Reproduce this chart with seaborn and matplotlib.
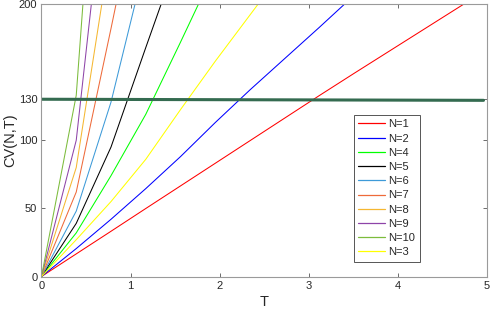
import pandas as pd
import matplotlib
matplotlib.use("Agg")
import matplotlib.pyplot as plt
import seaborn as sns

# sample points in T (shared by every curve; a curve stops once it leaves the plot)
t_grid = [0, 0.39, 0.78, 1.17, 1.56, 1.95, 2.34, 2.73, 3.12, 3.51, 3.90, 4.29, 4.68, 5.07]

cv_n1 = [0, 16.6, 33.2, 49.9, 66.5, 83.1, 99.7, 116.3, 132.9, 149.2, 165.3, 181.4, 197.5, 213.5]
cv_n2 = [0, 20.5, 42, 64.5, 88, 113, 137, 160, 183, 206.5]
cv_n3 = [0, 27, 55, 86, 122.5, 158, 192, 226]
cv_n4 = [0, 32, 74, 119, 172, 226]
cv_n5 = [0, 39, 95, 168, 240]
cv_n6 = [0, 48, 128, 232]
cv_n7 = [0, 62, 182, 305]
cv_n8 = [0, 80, 243]
cv_n9 = [0, 100, 330]
cv_n10 = [0, 133, 481]

labels = ["N=1", "N=2", "N=4", "N=5", "N=6", "N=7", "N=8", "N=9", "N=10", "N=3"]
series = [cv_n1, cv_n2, cv_n4, cv_n5, cv_n6, cv_n7, cv_n8, cv_n9, cv_n10, cv_n3]
colors = ["#ff0000", "#0000ff", "#00ff00", "#000000", "#3d9ad8",
          "#ee6a3a", "#f5b731", "#8e44a8", "#7cbc3c", "#ffff00"]

# threshold line
thr_t = [0, 4.96]
thr_cv = [130.1, 129.3]

rows = []
for lab, vals in zip(labels, series):
    for t, v in zip(t_grid, vals):
        rows.append({"T": t, "CV": v, "N": lab})
df = pd.DataFrame(rows)

sns.set_style("white")
plt.rcParams['font.family'] = ['Liberation Sans', 'DejaVu Sans']

fig = plt.figure(figsize=(4.91, 3.13), dpi=100)
ax = fig.add_axes([0.0845, 0.1166, 0.9075, 0.8706])

sns.lineplot(data=df, x="T", y="CV", hue="N", hue_order=labels, palette=colors,
             estimator=None, sort=False, linewidth=0.75, ax=ax)
sns.lineplot(x=thr_t, y=thr_cv, color="#346b50", linewidth=2.2, ax=ax, legend=False)

ax.set_xlim(0, 5)
ax.set_ylim(0, 200)
ax.set_xticks([0, 1, 2, 3, 4, 5])
ax.set_yticks([0, 50, 100, 130, 200])
ax.set_xlabel("T", fontsize=10.5, color="#262626", labelpad=3)
ax.set_ylabel("CV(N,T)", fontsize=10.5, color="#262626", labelpad=1)
ax.tick_params(direction="in", length=3, width=0.6, color="#555555",
               labelsize=8, labelcolor="#262626", top=True, right=True,
               bottom=True, left=True, pad=3)
for sp in ax.spines.values():
    sp.set_color("#9a9a9a")
    sp.set_linewidth(0.8)

leg = ax.legend(loc="upper left", bbox_to_anchor=(0.701, 0.593), fontsize=8,
                frameon=True, fancybox=False, framealpha=1, edgecolor="#555555",
                labelspacing=0.38, handlelength=2.4, handletextpad=0.3,
                borderpad=0.4, borderaxespad=0)
leg.get_frame().set_linewidth(0.7)
for line in leg.get_lines():
    line.set_linewidth(0.9)

fig.savefig("out.png", dpi=100)
